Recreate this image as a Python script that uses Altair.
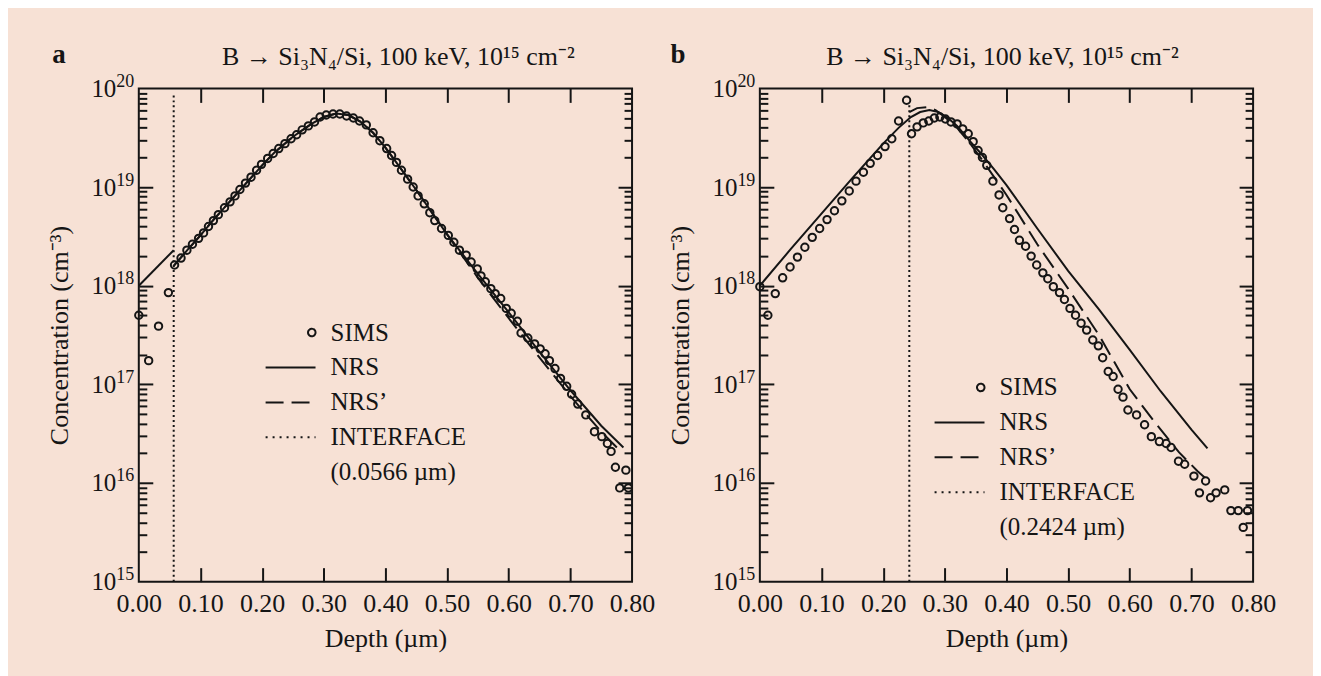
import altair as alt
import pandas as pd

FONT = "Liberation Serif"
INK = "#151515"
BG = "#F7E1D5"

TITLE = "B \u2192 Si\u2083N\u2084/Si, 100 keV, 10\u00b9\u2075 cm\u207b\u00b2"
X_TITLE = "Depth (\u00b5m)"
Y_TITLE = "Concentration (cm\u207b\u00b3)"
PANEL_LETTERS = ["a", "b"]

X_LABEL_TICKS = [0.0, 0.1, 0.2, 0.3, 0.4, 0.5, 0.6, 0.7, 0.8]
X_INNER_TICKS = [0.1, 0.2, 0.3, 0.4, 0.5, 0.6, 0.7]
DECADE_EXPONENTS = [15, 16, 17, 18, 19, 20]
DECADES = [10.0 ** e for e in DECADE_EXPONENTS]
INNER_DECADES = DECADES[1:-1]
MINOR_TICKS = [m * 10.0 ** e for e in range(15, 20) for m in range(2, 10)]

# ---- panel a (interface 0.0566 um) : depth (um), log10 concentration (cm^-3)
A_SIMS_DEPTH = [0.000, 0.016, 0.032, 0.048, 0.058, 0.0685, 0.078, 0.087, 0.097, 0.105,
                0.113, 0.121, 0.129, 0.139, 0.148, 0.156, 0.164, 0.173, 0.182, 0.191,
                0.199, 0.209, 0.218, 0.227, 0.237, 0.247, 0.256, 0.265, 0.275, 0.285,
                0.294, 0.304, 0.315, 0.326, 0.337, 0.348, 0.358, 0.369, 0.380, 0.391,
                0.402, 0.410, 0.418, 0.426, 0.436, 0.445, 0.453, 0.463, 0.472, 0.480,
                0.491, 0.502, 0.511, 0.520, 0.531, 0.539, 0.549, 0.555, 0.562, 0.571,
                0.578, 0.587, 0.596, 0.604, 0.614, 0.620, 0.631, 0.642, 0.651, 0.659,
                0.666, 0.675, 0.684, 0.694, 0.702, 0.712, 0.725, 0.739, 0.751, 0.760,
                0.766, 0.773, 0.790, 0.780, 0.794]
A_SIMS_LOG = [17.70, 17.24, 17.59, 17.93, 18.21, 18.28, 18.36, 18.42, 18.48, 18.535,
              18.60, 18.66, 18.72, 18.79, 18.85, 18.91, 18.975, 19.04, 19.10, 19.17,
              19.23, 19.29, 19.34, 19.39, 19.44, 19.49, 19.53, 19.58, 19.62, 19.66,
              19.71, 19.73, 19.74, 19.74, 19.72, 19.70, 19.67, 19.63, 19.55, 19.47,
              19.39, 19.32, 19.25, 19.17, 19.08, 19.00, 18.91, 18.83, 18.74, 18.66,
              18.58, 18.51, 18.44, 18.36, 18.31, 18.24, 18.17, 18.10, 18.04, 17.97,
              17.92, 17.87, 17.77, 17.72, 17.64, 17.52, 17.47, 17.41, 17.36, 17.31,
              17.24, 17.16, 17.06, 16.98, 16.90, 16.80, 16.69, 16.52, 16.47, 16.40,
              16.32, 16.16, 16.13, 15.95, 15.95]
A_NRS_DEPTH = [0.0, 0.0566,
               0.0566, 0.08, 0.10, 0.12, 0.15, 0.18, 0.20, 0.22, 0.25, 0.28, 0.30, 0.32,
               0.34, 0.36, 0.38, 0.40, 0.42, 0.45, 0.50, 0.55, 0.60, 0.65, 0.70, 0.75, 0.786]
A_NRS_LOG = [18.00, 18.36,
             18.20, 18.37, 18.51, 18.66, 18.87, 19.08, 19.22, 19.35, 19.51, 19.64, 19.71, 19.745,
             19.73, 19.66, 19.55, 19.40, 19.23, 18.97, 18.52, 18.12, 17.73, 17.33, 16.94, 16.58, 16.36]
A_NRS_SEG = [0, 0] + [1] * 25
A_NRSP_DEPTH = [0.0566, 0.08, 0.10, 0.12, 0.15, 0.18, 0.20, 0.22, 0.25, 0.28, 0.30, 0.32,
                0.34, 0.36, 0.38, 0.40, 0.42, 0.45, 0.50, 0.55, 0.60, 0.65, 0.70, 0.75, 0.78]
A_NRSP_LOG = [18.20, 18.37, 18.51, 18.66, 18.87, 19.08, 19.22, 19.35, 19.51, 19.64, 19.71, 19.745,
              19.73, 19.66, 19.55, 19.40, 19.23, 18.97, 18.52, 18.08, 17.67, 17.27, 16.88, 16.52, 16.33]
A_INTERFACE = 0.0566
A_INTERFACE_TOP_LOG = 19.95
A_LEGEND = ["SIMS", "NRS", "NRS\u2019", "INTERFACE", "(0.0566 \u00b5m)"]

# ---- panel b (interface 0.2424 um)
B_SIMS_DEPTH = [0.000, 0.013, 0.025, 0.037, 0.049, 0.061, 0.073, 0.085, 0.097, 0.109,
                0.121, 0.133, 0.145, 0.156, 0.168, 0.179, 0.191, 0.203, 0.214, 0.225,
                0.238, 0.246, 0.255, 0.265, 0.274, 0.283, 0.292, 0.301, 0.310, 0.320,
                0.329, 0.338, 0.346, 0.354, 0.361, 0.368, 0.378, 0.388, 0.394, 0.405,
                0.413, 0.421, 0.431, 0.440, 0.449, 0.459, 0.467, 0.476, 0.486, 0.494,
                0.503, 0.512, 0.521, 0.530, 0.540, 0.549, 0.556, 0.565, 0.573, 0.581,
                0.589, 0.597, 0.611, 0.624, 0.635, 0.648, 0.659, 0.667, 0.679, 0.689,
                0.704, 0.713, 0.723, 0.731, 0.740, 0.754, 0.764, 0.776, 0.784, 0.791]
B_SIMS_LOG = [17.99, 17.70, 17.92, 18.08, 18.19, 18.29, 18.39, 18.49, 18.58, 18.67,
              18.76, 18.86, 18.96, 19.06, 19.15, 19.24, 19.32, 19.41, 19.49, 19.67,
              19.88, 19.54, 19.61, 19.65, 19.67, 19.70, 19.71, 19.69, 19.66, 19.64,
              19.59, 19.54, 19.46, 19.37, 19.30, 19.22, 19.06, 18.92, 18.79, 18.68,
              18.57, 18.46, 18.40, 18.30, 18.21, 18.13, 18.07, 17.99, 17.93, 17.86,
              17.77, 17.70, 17.62, 17.55, 17.45, 17.39, 17.27, 17.13, 17.08, 16.95,
              16.87, 16.74, 16.69, 16.59, 16.47, 16.42, 16.40, 16.36, 16.22, 16.19,
              16.07, 15.90, 16.02, 15.85, 15.90, 15.93, 15.72, 15.72, 15.55, 15.72]
B_NRS_DEPTH = [0.0, 0.05, 0.10, 0.15, 0.20, 0.225, 0.245, 0.26, 0.275, 0.29, 0.305, 0.32,
               0.34, 0.36, 0.38, 0.40, 0.45, 0.50, 0.55, 0.60, 0.65, 0.70, 0.726]
B_NRS_LOG = [18.00, 18.37, 18.73, 19.09, 19.44, 19.60, 19.71, 19.76, 19.78, 19.76, 19.70, 19.62,
             19.47, 19.33, 19.18, 19.02, 18.58, 18.15, 17.76, 17.35, 16.93, 16.54, 16.35]
B_NRS_SEG = [0] * 23
B_NRSP_DEPTH = [0.2424, 0.255, 0.27, 0.285, 0.30, 0.32, 0.34, 0.36, 0.38, 0.40, 0.45, 0.50,
                0.55, 0.60, 0.64, 0.68, 0.71, 0.728]
B_NRSP_LOG = [19.76, 19.80, 19.81, 19.78, 19.71, 19.60, 19.45, 19.28, 19.10, 18.92, 18.42, 17.97,
              17.50, 16.95, 16.62, 16.31, 16.12, 16.02]
B_INTERFACE = 0.2424
B_INTERFACE_TOP_LOG = 19.83
B_LEGEND = ["SIMS", "NRS", "NRS\u2019", "INTERFACE", "(0.2424 \u00b5m)"]

# legend symbols: open circle drawn at right end of the sample span, lines, nothing for 2nd text line
LEGEND_SHAPES = ["M1,0A0.15,0.15,0,1,1,0.7,0A0.15,0.15,0,1,1,1,0Z", "stroke", "stroke", "stroke", "M0,0"]
LEGEND_DASHES = [[1, 0], [1, 0], [18, 8], [2, 5], [1, 0]]

W = 494
H = 494

EXPONENT_EXPR = "'' + round(log(datum.value) / LN10)"


def tick_axis(orient, values, size):
    return alt.Axis(orient=orient, values=values, labels=False, title=None, domain=False,
                    grid=False, ticks=True, tickSize=size, tickWidth=2, tickColor=INK,
                    offset=-size)


def make_panel(letter, letter_x, title_x, sims_d, sims_l, nrs_d, nrs_l, nrs_seg,
               nrsp_d, nrsp_l, iface_d, iface_top, legend_domain, legend_x, legend_y):
    xs = alt.Scale(domain=[0, 0.8], nice=False, zero=False)
    ys = alt.Scale(type="log", domain=[DECADES[0], DECADES[-1]], nice=False)

    main_x = alt.Axis(orient="bottom", values=X_LABEL_TICKS, format=".2f", title=X_TITLE,
                      labelFlush=False, labelOverlap=False, ticks=False, domain=False,
                      grid=False, labelPadding=9, labelFontSize=26, titleFontSize=26,
                      titleFontWeight="normal", titleY=57, titleBaseline="middle",
                      labelColor=INK, titleColor=INK, labelFont=FONT, titleFont=FONT)
    # "10" part of the decade labels
    base_y = alt.Axis(orient="left", values=DECADES, labelExpr="'10'", title=Y_TITLE,
                      labelFlush=False, labelOverlap=False, ticks=False, domain=False,
                      grid=False, labelPadding=23, labelFontSize=25, titleFontSize=26,
                      titleFontWeight="normal", titleX=-79, titleY=H / 2,
                      titleBaseline="middle", labelColor=INK, titleColor=INK,
                      labelFont=FONT, titleFont=FONT)
    # exponent part of the decade labels
    exp_y = alt.Axis(orient="left", values=DECADES, labelExpr=EXPONENT_EXPR, title=None,
                     labelFlush=False, labelOverlap=False, ticks=False, domain=False,
                     grid=False, labelPadding=5, labelFontSize=18, labelOffset=-7,
                     labelColor=INK, labelFont=FONT)

    nrs = alt.Chart(pd.DataFrame({"depth": nrs_d, "lg": nrs_l, "seg": nrs_seg})).transform_calculate(
        conc="pow(10, datum.lg)"
    ).mark_line(color=INK, strokeWidth=2).encode(
        x=alt.X("depth:Q", scale=xs, axis=main_x),
        y=alt.Y("conc:Q", scale=ys, axis=base_y),
        detail="seg:N",
    )
    nrsp = alt.Chart(pd.DataFrame({"depth": nrsp_d, "lg": nrsp_l})).transform_calculate(
        conc="pow(10, datum.lg)"
    ).mark_line(color=INK, strokeWidth=2, strokeDash=[18, 8]).encode(
        x=alt.X("depth:Q", scale=xs, axis=tick_axis("bottom", X_INNER_TICKS, 14)),
        y=alt.Y("conc:Q", scale=ys, axis=tick_axis("left", INNER_DECADES, 14)),
    )
    sims = alt.Chart(pd.DataFrame({"depth": sims_d, "lg": sims_l})).transform_calculate(
        conc="pow(10, datum.lg)"
    ).mark_point(shape="circle", filled=False, size=55, strokeWidth=2, color=INK, opacity=1).encode(
        x=alt.X("depth:Q", scale=xs, axis=tick_axis("top", X_INNER_TICKS, 14)),
        y=alt.Y("conc:Q", scale=ys, axis=tick_axis("left", MINOR_TICKS, 8)),
    )
    iface = alt.Chart(pd.DataFrame({"depth": [iface_d], "lo_lg": [DECADE_EXPONENTS[0]],
                                    "hi_lg": [iface_top]})).transform_calculate(
        lo="pow(10, datum.lo_lg)", hi="pow(10, datum.hi_lg)"
    ).mark_rule(color=INK, strokeWidth=2, strokeDash=[2, 3]).encode(
        x=alt.X("depth:Q", scale=xs, axis=None),
        y=alt.Y("lo:Q", scale=ys, axis=tick_axis("right", INNER_DECADES, 14)),
        y2="hi:Q",
    )
    leg_params = alt.Legend(orient="none", legendX=legend_x, legendY=legend_y, title=None,
                            padding=0, rowPadding=2, clipHeight=33, symbolSize=2500,
                            symbolStrokeWidth=2, symbolStrokeColor=INK,
                            symbolFillColor="transparent", labelFont=FONT, labelFontSize=25,
                            labelColor=INK, labelOffset=14, labelLimit=400, direction="vertical")
    n = len(legend_domain)
    empty = pd.DataFrame({"s": legend_domain, "depth": [None] * n, "conc": [None] * n})
    leg = alt.Chart(empty).mark_point(
        filled=False, color=INK, strokeWidth=2, opacity=1
    ).encode(
        x=alt.X("depth:Q", scale=xs, axis=None),
        y=alt.Y("conc:Q", scale=ys, axis=tick_axis("right", MINOR_TICKS, 8)),
        shape=alt.Shape("s:N", scale=alt.Scale(domain=legend_domain, range=LEGEND_SHAPES), legend=leg_params),
        strokeDash=alt.StrokeDash("s:N", scale=alt.Scale(domain=legend_domain, range=LEGEND_DASHES), legend=leg_params),
    )
    exp_layer = alt.Chart(empty).mark_point(opacity=0).encode(
        x=alt.X("depth:Q", scale=xs, axis=None),
        y=alt.Y("conc:Q", scale=ys, axis=exp_y),
    )
    letter_layer = alt.Chart(pd.DataFrame({"t": [letter]})).mark_text(
        font=FONT, fontSize=27, fontWeight="bold", color=INK, align="center", baseline="alphabetic"
    ).encode(x=alt.value(letter_x), y=alt.value(-25), text="t:N")
    title_layer = alt.Chart(pd.DataFrame({"t": [TITLE]})).mark_text(
        font=FONT, fontSize=26, color=INK, align="center", baseline="alphabetic"
    ).encode(x=alt.value(title_x), y=alt.value(-23), text="t:N")

    return alt.layer(nrs, nrsp, sims, iface, leg, exp_layer, letter_layer, title_layer).resolve_axis(
        x="independent", y="independent"
    ).properties(width=W, height=H)


panel_a = make_panel(PANEL_LETTERS[0], -80, W / 2 + 13, A_SIMS_DEPTH, A_SIMS_LOG, A_NRS_DEPTH, A_NRS_LOG,
                     A_NRS_SEG, A_NRSP_DEPTH, A_NRSP_LOG, A_INTERFACE, A_INTERFACE_TOP_LOG,
                     A_LEGEND, 126, 228)
panel_b = make_panel(PANEL_LETTERS[1], -82, W / 2 - 4, B_SIMS_DEPTH, B_SIMS_LOG, B_NRS_DEPTH, B_NRS_LOG,
                     B_NRS_SEG, B_NRSP_DEPTH, B_NRSP_LOG, B_INTERFACE, B_INTERFACE_TOP_LOG,
                     B_LEGEND, 174, 283)

chart = alt.hconcat(panel_a, panel_b, spacing=128, bounds="flush").resolve_scale(
    shape="independent", strokeDash="independent"
).properties(
    padding={"left": 38, "top": 32, "right": 36, "bottom": 33},
    background=BG,
).configure(font=FONT).configure_view(stroke=INK, strokeWidth=2)

chart.save("out.html", embed_options={"renderer": "svg", "actions": False})
